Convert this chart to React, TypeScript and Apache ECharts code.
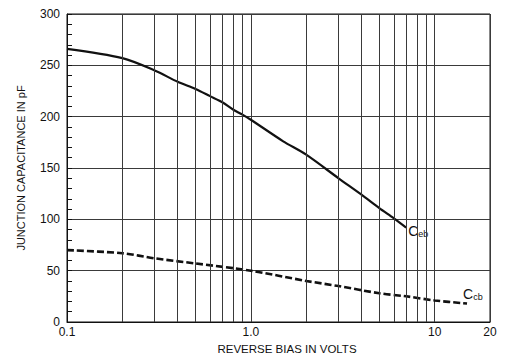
import React, { useEffect, useRef } from "react";
import * as echarts from "echarts";

// Reverse bias (V) and junction capacitance (pF)
const cebBias = [0.1, 0.2, 0.3, 0.4, 0.5, 0.6, 0.7, 0.8, 0.9, 1.0, 1.5, 2, 3, 4, 5, 6, 7];
const cebCap = [266, 257, 245, 234, 227, 220, 214, 207, 202, 197, 176, 163, 140, 124, 111, 101, 92];

const ccbBias = [0.1, 0.2, 0.3, 0.5, 1.0, 2, 3, 5, 7, 10, 15];
const ccbCap = [70, 67, 62, 57, 50, 40, 35, 28, 25, 21, 18];

// Intermediate decade lines on the log axis
const minorBias = [0.2, 0.3, 0.4, 0.5, 0.6, 0.7, 0.8, 0.9, 2, 3, 4, 5, 6, 7, 8, 9];

const xTickLabels: Record<string, string> = { "0.1": "0.1", "1": "1.0", "10": "10", "20": "20" };

const FONT = "'Liberation Sans Narrow', 'Liberation Sans', Arial, sans-serif";
const INK = "#111";
const GRID = "#3a3a3a";

export default function App() {
  const ref = useRef<HTMLDivElement>(null);

  useEffect(() => {
    document.body.style.margin = "0";
    if (!ref.current) return;
    const chart = echarts.init(ref.current, null, { renderer: "svg" });

    const pair = (xs: number[], ys: number[]) => xs.map((x, i) => [x, ys[i]]);

    const curveLabel = (sub: string, offset: number[]) => ({
      show: true,
      distance: 2,
      offset,
      color: INK,
      formatter: `{c|C}{s|${sub}}`,
      rich: {
        c: { fontFamily: FONT, fontSize: 14, color: INK },
        s: { fontFamily: FONT, fontSize: 9, color: INK, padding: [7, 0, 0, 0] },
      },
    });

    chart.setOption({
      animation: false,
      backgroundColor: "#fff",
      grid: {
        left: 67,
        right: 16,
        top: 14,
        bottom: 37,
        show: true,
        borderColor: INK,
        borderWidth: 1,
      },
      xAxis: {
        type: "log",
        logBase: 10,
        min: 0.1,
        max: 20,
        name: "REVERSE BIAS IN VOLTS",
        nameLocation: "middle",
        nameGap: 21,
        nameTextStyle: {
          fontFamily: FONT,
          fontSize: 11.5,
          color: INK,
          padding: [0, 0, 0, 17],
        },
        axisLine: { show: true, lineStyle: { color: INK, width: 1 } },
        axisTick: { show: false },
        axisLabel: {
          fontFamily: FONT,
          fontSize: 12,
          color: INK,
          margin: 4,
          showMinLabel: true,
          showMaxLabel: true,
          formatter: (v: number) => {
            const r = Math.round(v * 10) / 10;
            return xTickLabels[String(r)] ?? "";
          },
        },
        splitLine: { show: true, lineStyle: { color: GRID, width: 1 } },
      },
      yAxis: {
        type: "value",
        min: 0,
        max: 300,
        interval: 50,
        name: "JUNCTION CAPACITANCE IN pF",
        nameLocation: "middle",
        nameGap: 41,
        nameTextStyle: { fontFamily: FONT, fontSize: 11, color: INK },
        axisLine: { show: true, lineStyle: { color: INK, width: 1 } },
        axisTick: { show: true, inside: true, length: 5, lineStyle: { color: INK } },
        minorTick: {
          show: true,
          splitNumber: 5,
          length: 5,
          lineStyle: { color: INK, width: 1 },
        },
        axisLabel: {
          fontFamily: FONT,
          fontSize: 12,
          color: INK,
          margin: 7,
        },
        splitLine: { show: true, lineStyle: { color: GRID, width: 1 } },
      },
      series: [
        {
          name: "grid",
          type: "line",
          data: [],
          silent: true,
          markLine: {
            silent: true,
            symbol: "none",
            label: { show: false },
            lineStyle: { color: GRID, width: 1, type: "solid" },
            data: minorBias.map((x) => ({ xAxis: x })),
          },
        },
        {
          name: "Ceb",
          type: "line",
          data: pair(cebBias, cebCap),
          showSymbol: false,
          smooth: 0.3,
          lineStyle: { color: INK, width: 2.2, type: "solid" },
          endLabel: curveLabel("eb", [0, 3]),
        },
        {
          name: "Ccb",
          type: "line",
          data: pair(ccbBias, ccbCap),
          showSymbol: false,
          smooth: 0.3,
          lineStyle: { color: INK, width: 2.6, type: [7, 3] },
          endLabel: curveLabel("cb", [-6, -10]),
        },
      ],
    });

    return () => chart.dispose();
  }, []);

  return <div ref={ref} style={{ width: 506, height: 360 }} />;
}
